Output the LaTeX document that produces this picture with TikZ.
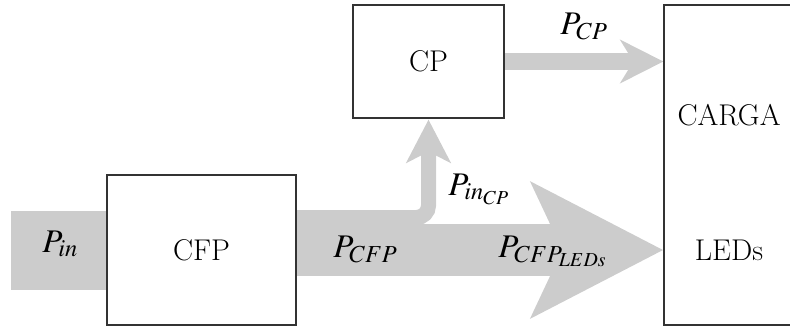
\documentclass[tikz,border=0pt]{standalone}
\usepackage{mathptmx}
\renewcommand{\rmdefault}{lmr}
\usetikzlibrary{arrows.meta,calc,backgrounds}

\begin{document}
\begin{tikzpicture}[x=0.5pt,y=-0.5pt,
  box/.style={draw=black!80, line width=0.6pt, fill=white, inner sep=0pt,
    font=\fontsize{15}{18}\selectfont},
  boxtext/.style={inner sep=0pt, font=\fontsize{15}{18}\selectfont},
  flow/.style={draw=gray!40},
  lbl/.style={inner sep=0pt, anchor=base west, font=\fontsize{16.5}{19}\selectfont}]
\useasboundingbox (0,0) rectangle (790,328);

% blocks
\node[box, minimum width=94.5pt, minimum height=75pt] (cfp) at (201.5,250) {CFP};
\node[box, minimum width=75.5pt, minimum height=56.5pt] (cp) at (428.5,61.5) {CP};
\node[box, minimum width=65pt, minimum height=160pt] (carga) at (729,165) {};
\node[boxtext] (cargatxt) at (729,115) {CARGA};
\node[boxtext] (leds) at (729,250) {LEDs};

% power flows
\begin{scope}[on background layer]
  \fill[gray!40] ($(cfp.west)+(-95,-39.5)$) rectangle ($(cfp.west)+(0,39.5)$);
  \draw[flow, line width=26pt, -{Stealth[length=65.5pt,width=66.5pt,inset=15pt]}]
    (cfp.east) -- (cfp.east -| carga.west);
  \draw[flow, line width=7.5pt, rounded corners=6pt,
        -{Stealth[length=21.5pt,width=22pt,inset=5.5pt]}]
    ($(cfp.east)+(0,-32.5)$) -| ($(cp.south)+(0,1)$);
  \draw[flow, line width=8.5pt, -{Stealth[length=21.5pt,width=21.5pt,inset=6.5pt]}]
    (cp.east) -- (cp.east -| carga.west);
\end{scope}

% labels
\node[lbl] (lpin) at (42,252) {$P_{in}$};
\node[lbl] (lpcfp) at (333,257) {$P_{CFP}$};
\node[lbl] (lpled) at (498,257) {$P_{CFP_{LEDs}}$};
\node[lbl] (lpincp) at (448,195) {$P_{in_{CP}}$};
\node[lbl] (lpcp) at (560,34) {$P_{CP}$};
\end{tikzpicture}
\end{document}
